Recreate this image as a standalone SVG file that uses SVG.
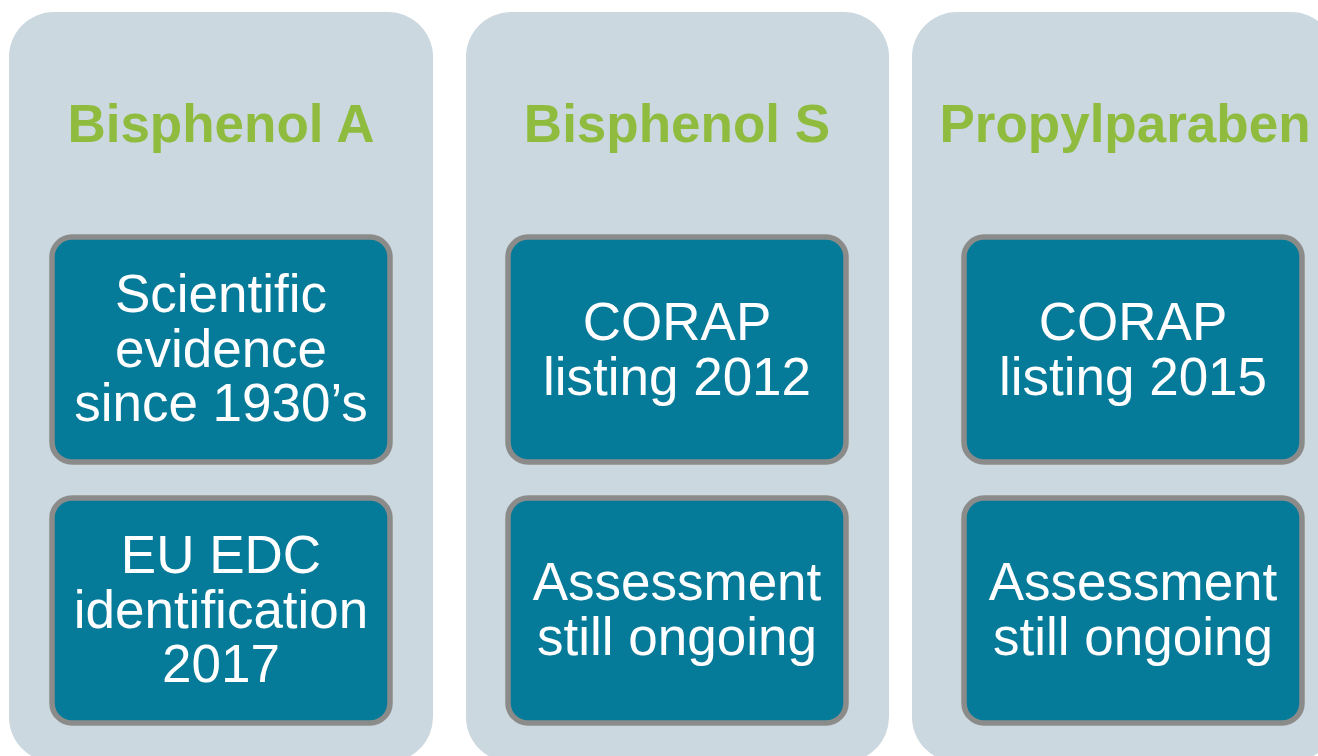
<svg xmlns="http://www.w3.org/2000/svg" width="1318" height="756" viewBox="0 0 1318 756">
  <style>
    .panel { fill: #cbd8e0; }
    .box { fill: #067a99; stroke: #8b8c8a; stroke-width: 5.5; }
    .title { font-family: "Liberation Sans", Arial, sans-serif; font-weight: bold; font-size: 53px; fill: #8fbc3f; text-anchor: middle; }
    .label { font-family: "Liberation Sans", Arial, sans-serif; font-size: 53px; fill: #ffffff; text-anchor: middle; }
  </style>
  <rect width="1318" height="756" fill="#ffffff"/>

  <!-- Column 1: Bisphenol A -->
  <g id="col-bpa">
    <rect class="panel" x="9" y="12" width="424" height="750" rx="45"/>
    <text class="title" x="221" y="142">Bisphenol A</text>
  </g>
  <g id="bpa-evidence">
    <rect class="box" x="52" y="237" width="338" height="225" rx="20"/>
    <text class="label" x="221" y="312">Scientific</text>
    <text class="label" x="221" y="367">evidence</text>
    <text class="label" x="221" y="421">since 1930’s</text>
  </g>
  <g id="bpa-identification">
    <rect class="box" x="52" y="498" width="338" height="225" rx="20"/>
    <text class="label" x="221" y="573">EU EDC</text>
    <text class="label" x="221" y="628">identification</text>
    <text class="label" x="221" y="682">2017</text>
  </g>

  <!-- Column 2: Bisphenol S -->
  <g id="col-bps">
    <rect class="panel" x="466" y="12" width="423" height="750" rx="45"/>
    <text class="title" x="677" y="142">Bisphenol S</text>
  </g>
  <g id="bps-corap">
    <rect class="box" x="508" y="237" width="338" height="225" rx="20"/>
    <text class="label" x="677" y="340">CORAP</text>
    <text class="label" x="677" y="395">listing 2012</text>
  </g>
  <g id="bps-assessment">
    <rect class="box" x="508" y="498" width="338" height="225" rx="20"/>
    <text class="label" x="677" y="600">Assessment</text>
    <text class="label" x="677" y="655">still ongoing</text>
  </g>

  <!-- Column 3: Propylparaben -->
  <g id="col-propylparaben">
    <rect class="panel" x="912" y="12" width="424" height="750" rx="45"/>
    <text class="title" x="1125" y="142">Propylparaben</text>
  </g>
  <g id="pp-corap">
    <rect class="box" x="964" y="237" width="338" height="225" rx="20"/>
    <text class="label" x="1133" y="340">CORAP</text>
    <text class="label" x="1133" y="395">listing 2015</text>
  </g>
  <g id="pp-assessment">
    <rect class="box" x="964" y="498" width="338" height="225" rx="20"/>
    <text class="label" x="1133" y="600">Assessment</text>
    <text class="label" x="1133" y="655">still ongoing</text>
  </g>

  <!-- No connectors in this layout -->
  <g id="connectors"/>
</svg>
